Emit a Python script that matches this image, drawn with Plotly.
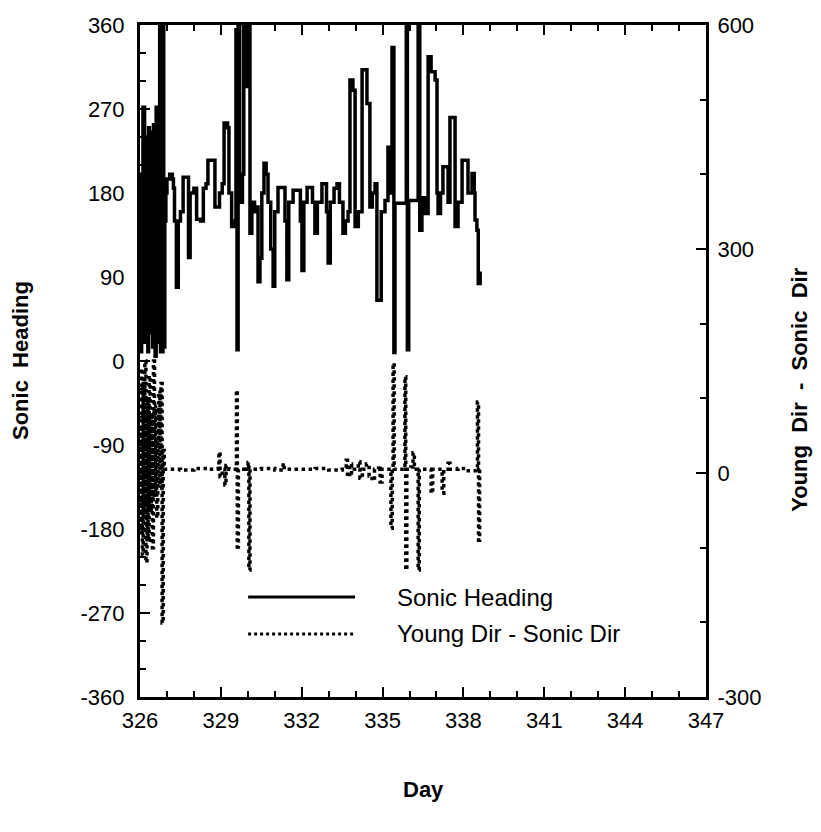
import plotly.graph_objects as go

# Sonic heading (deg) vs. day of year
sonic_day = [
    326.00, 326.02, 326.04, 326.06, 326.08, 326.11, 326.15, 326.17, 326.20, 326.23,
    326.26, 326.29, 326.32, 326.35, 326.38, 326.41, 326.44, 326.47, 326.50, 326.53,
    326.56, 326.60, 326.63, 326.66, 326.70, 326.73, 326.76, 326.79, 326.82, 326.85,
    326.88, 326.92, 326.96,
    327.00, 327.10, 327.20, 327.24, 327.28, 327.35, 327.42, 327.50, 327.60, 327.75,
    327.80, 327.86, 328.00, 328.10, 328.25, 328.35, 328.45, 328.52, 328.70, 328.78,
    328.85, 328.95, 329.05, 329.12, 329.25, 329.30, 329.40, 329.50, 329.56, 329.60,
    329.64, 329.70, 329.80, 329.85, 329.95, 330.02, 330.08, 330.15, 330.25, 330.33,
    330.38, 330.45, 330.52, 330.60, 330.68, 330.75, 330.85, 330.94, 331.00, 331.12,
    331.30, 331.38, 331.45, 331.52, 331.68, 331.85, 331.95, 332.01, 332.08, 332.20,
    332.31, 332.40, 332.49, 332.58, 332.75, 332.86, 332.92, 332.98, 333.06, 333.20,
    333.31, 333.40, 333.53, 333.62, 333.72, 333.79, 333.90, 333.98, 334.10, 334.24,
    334.35, 334.42, 334.53, 334.62, 334.72, 334.79, 334.88, 334.95, 335.09, 335.20,
    335.30, 335.35, 335.42, 335.46, 335.83, 335.88, 335.92, 335.97, 336.15, 336.32,
    336.38, 336.46, 336.58, 336.69, 336.80, 336.95, 337.02, 337.06, 337.15, 337.24,
    337.38, 337.43, 337.50, 337.62, 337.69, 337.80, 337.95, 338.06, 338.17, 338.32,
    338.40, 338.43, 338.50, 338.55, 338.62,
]
sonic_deg = [
    40, 120, 10, 200, 30, 272, 272, 20, 240, 50,
    220, 10, 250, 30, 245, 60, 230, 15, 253, 20,
    5, 272, 272, 20, 180, 360, 10, 360, 10, 360,
    15, 150, 180,
    195, 200, 195, 185, 150, 79, 150, 160, 197, 197,
    111, 180, 185, 152, 150, 185, 190, 215, 215, 165,
    165, 180, 190, 255, 250, 180, 144, 150, 355, 12,
    360, 170, 200, 360, 294, 360, 137, 170, 160, 165,
    85, 110, 180, 212, 200, 170, 120, 80, 160, 186,
    186, 150, 87, 170, 183, 183, 150, 97, 170, 186,
    186, 170, 137, 170, 190, 190, 160, 105, 170, 185,
    190, 170, 137, 150, 160, 301, 290, 144, 160, 312,
    312, 276, 165, 180, 190, 65, 65, 160, 172, 229,
    180, 336, 9, 169, 169, 360, 12, 172, 172, 360,
    140, 175, 158, 326, 310, 301, 180, 158, 180, 208,
    208, 170, 261, 261, 144, 170, 215, 215, 180, 201,
    180, 151, 140, 83, 96,
]

# Young Dir - Sonic Dir (deg) vs. day of year
diff_day = [
    326.00, 326.03, 326.06, 326.09, 326.12, 326.15, 326.18, 326.22, 326.26, 326.30,
    326.34, 326.38, 326.42, 326.46, 326.50, 326.54, 326.58, 326.62, 326.66, 326.70,
    326.74, 326.78, 326.82, 326.86, 326.90,
    327.50, 328.00, 328.50, 328.90, 328.93, 328.97, 329.05, 329.15, 329.19, 329.30,
    329.55, 329.58, 329.61, 329.65, 329.85, 329.95, 330.01, 330.04, 330.08, 330.50,
    331.00, 331.31, 331.35, 332.00, 332.50, 333.00, 333.50, 333.65, 333.70, 333.78,
    333.85, 333.95, 334.10, 334.16, 334.25, 334.40, 334.50, 334.61, 334.70, 334.85,
    334.91, 334.98, 335.30, 335.31, 335.36, 335.39, 335.43, 335.80, 335.83, 335.86,
    335.90, 336.05, 336.13, 336.18, 336.30, 336.32, 336.36, 336.70, 336.80, 336.86,
    337.15, 337.21, 337.27, 337.43, 337.50, 337.80, 338.10, 338.45, 338.52, 338.56,
    338.60,
]
diff_val = [
    60, -80, 140, -110, 120, -60, 150, -120, 100, -90,
    130, -50, 80, -100, 150, -30, 90, -60, 40, 110,
    -20, 120, -201, 30, 5,
    4, 6, 5, 6, 28, -5, 5, -16, 10, 5,
    5, 111, -99, 5, 8, 5, 14, -130, 5, 6,
    4, 13, 5, 5, 6, 4, 5, 17, -5, 12,
    0, 5, 15, -7, 5, 12, -4, -10, 5, 10,
    -12, 5, 5, -74, 5, 147, 5, 5, 129, -130,
    5, 8, 27, 5, 5, -130, 5, 5, -27, 5,
    5, -27, 5, 13, 5, 6, 3, 8, 95, -90,
    5,
]

x_ticks = [326, 329, 332, 335, 338, 341, 344, 347]
y_ticks = [-360, -270, -180, -90, 0, 90, 180, 270, 360]
y2_ticks = [-300, 0, 300, 600]

legend_labels = ["Sonic Heading", "Young Dir - Sonic Dir"]

FONT = "Liberation Sans, Arial, Helvetica, sans-serif"
INK = "black"


def labels(vals):
    # plain hyphen for negative numbers
    return [str(v) for v in vals]


fig = go.Figure()
fig.add_trace(go.Scatter(
    x=sonic_day, y=sonic_deg, mode="lines", name=legend_labels[0],
    line=dict(color=INK, width=3.5, shape="hv"), yaxis="y", showlegend=False,
))
fig.add_trace(go.Scatter(
    x=diff_day, y=diff_val, mode="lines", name=legend_labels[1],
    line=dict(color=INK, width=3.5, dash="dot", shape="hv"), yaxis="y2", showlegend=False,
))

axis_common = dict(
    showgrid=False, zeroline=False, showline=True, linecolor=INK, linewidth=3,
    ticks="inside", tickcolor=INK, tickwidth=2, ticklen=10,
    tickfont=dict(family=FONT, size=22, color=INK),
)

fig.update_layout(
    width=821, height=832,
    margin=dict(l=140, r=115, t=25, b=135),
    paper_bgcolor="white", plot_bgcolor="white",
    xaxis=dict(
        **axis_common, range=[326, 347], tickmode="array", tickvals=x_ticks,
        ticktext=labels(x_ticks), mirror="ticks", ticklabelstandoff=2,
        minor=dict(dtick=1, tick0=326, ticks="inside", ticklen=6, tickwidth=2, tickcolor=INK),
    ),
    yaxis=dict(
        **axis_common, range=[-360, 360], tickmode="array", tickvals=y_ticks,
        ticktext=labels(y_ticks), ticklabelstandoff=8,
        minor=dict(dtick=30, tick0=0, ticks="inside", ticklen=6, tickwidth=2, tickcolor=INK),
    ),
    yaxis2=dict(
        **axis_common, range=[-300, 600], tickmode="array", tickvals=y2_ticks,
        ticktext=labels(y2_ticks), overlaying="y", side="right", ticklabelstandoff=4,
        minor=dict(dtick=100, tick0=0, ticks="inside", ticklen=6, tickwidth=2, tickcolor=INK),
    ),
)

title_font = dict(family=FONT, size=22, color=INK)
fig.add_annotation(text="<b>Sonic\u00a0\u00a0Heading</b>", x=-0.212, y=0.5, xref="paper", yref="paper",
                   textangle=-90, showarrow=False, font=title_font, xanchor="center", yanchor="middle")
fig.add_annotation(text="<b>Young\u00a0\u00a0Dir\u00a0\u00a0-\u00a0\u00a0Sonic\u00a0\u00a0Dir</b>", x=1.166, y=0.457,
                   xref="paper", yref="paper", textangle=-90, showarrow=False, font=title_font,
                   xanchor="center", yanchor="middle")
fig.add_annotation(text="<b>Day</b>", x=0.5, y=-0.138, xref="paper", yref="paper",
                   showarrow=False, font=title_font, xanchor="center", yanchor="middle")

# Legend drawn inside the plot area
legend_rows = [(0.1488, "solid"), (0.0938, "dot")]
for (ly, dash), label in zip(legend_rows, legend_labels):
    fig.add_shape(type="line", xref="paper", yref="paper", x0=0.191, x1=0.380, y0=ly, y1=ly,
                  line=dict(color=INK, width=3, dash=dash))
    fig.add_annotation(text=label, x=0.45, y=ly, xref="paper", yref="paper", showarrow=False,
                       xanchor="left", yanchor="middle", font=dict(family=FONT, size=24, color=INK))

fig.write_html("out.html")
